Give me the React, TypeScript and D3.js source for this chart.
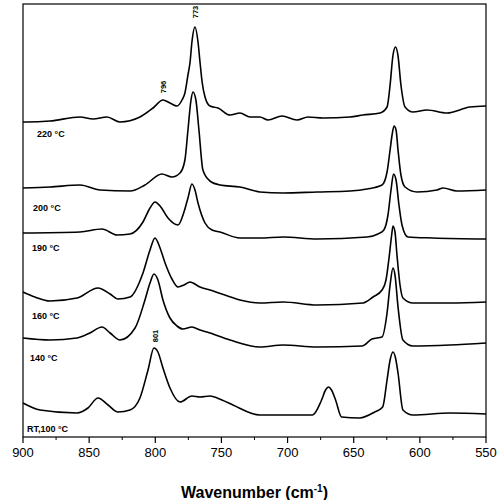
import React from 'react';
import * as d3 from 'd3';

type Pt = [number, number]; // [wavenumber (cm-1), intensity (a.u., stacked)]

// Raman spectra (stacked, arbitrary units)
const spec220: Pt[] = [
  [900, 315], [897, 315], [879.6, 316], [856.9, 320], [847.1, 318], [836.5, 320], [826.7, 315],
  [811.6, 320], [801.7, 329], [794.2, 337], [788.9, 334], [783.6, 331], [779.8, 337], [777.6, 344],
  [775.3, 362], [773.7, 375], [772.3, 395], [770, 410], [767.7, 395], [766.2, 375], [764.6, 355],
  [762.4, 340], [758.7, 331], [752.6, 329], [743.5, 322], [736, 324], [728.4, 320], [720.9, 320],
  [714.8, 317], [704.2, 321], [692.9, 317], [684.5, 320], [673.2, 319], [652.8, 320], [643, 322],
  [630.1, 324], [624.8, 330], [622.5, 352], [620.3, 382], [618.4, 390], [616.6, 382], [614.3, 352],
  [611.2, 330], [605.2, 325], [594.6, 327], [579.5, 324], [562.1, 330], [550, 331],
];

const spec200: Pt[] = [
  [900, 249], [879.6, 250], [856.9, 252], [841.8, 247], [819.1, 246], [807.8, 252], [795, 263],
  [787.4, 260], [781.3, 264], [777.6, 277], [775.3, 307], [773, 337], [771.5, 345], [769.3, 337],
  [767, 307], [764, 267], [758.7, 256], [751.1, 252], [736, 250], [720.9, 245], [703.4, 244],
  [677.7, 245], [652.8, 246], [640, 248], [628.6, 252], [624.8, 265], [622.5, 287], [621, 302],
  [619.5, 311], [618, 307], [616.5, 287], [614.3, 262], [611.2, 250], [602.1, 245], [587, 247],
  [582.5, 249], [571.9, 246], [550, 247],
];

const spec190: Pt[] = [
  [900, 204], [856.9, 205], [840.3, 208], [828.9, 202], [819.1, 203], [809.3, 215], [804, 229],
  [800.2, 235], [796.4, 231], [790.4, 219], [782.8, 212], [778.3, 225], [775.3, 239], [772.3, 253],
  [770, 247], [767.7, 234], [762.4, 214], [757.1, 207], [751.1, 205], [736, 199], [720.9, 199],
  [703.4, 200], [677.7, 198], [640, 200], [631.7, 203], [627.2, 207], [624.1, 222], [621.8, 247],
  [619.9, 263], [618, 257], [615.8, 232], [613.5, 212], [609, 200], [590.1, 199], [550, 198],
];

const spec160: Pt[] = [
  [900, 145], [891, 140], [879.6, 136], [859.2, 139], [843.3, 149], [834.2, 143], [828.2, 138],
  [819.1, 140], [809.3, 164], [804, 187], [800.2, 199], [796.4, 189], [792.6, 174], [787.4, 158],
  [782.8, 150], [778.3, 152], [773.8, 155], [766.2, 150], [758.7, 147], [747.4, 142], [736, 137],
  [720.9, 134], [703.4, 135], [677.7, 132], [643, 134], [635.4, 140], [628.6, 147], [625.6, 157],
  [623.3, 179], [621.4, 201], [620.3, 211], [618.8, 205], [617.3, 182], [615, 152], [612.8, 139],
  [605.2, 134], [577.2, 134], [550, 135],
];

const spec140: Pt[] = [
  [900, 99], [879.6, 97], [859.2, 99], [849.4, 104], [840.3, 110], [834.2, 104], [826.7, 97],
  [815.3, 109], [807.8, 137], [804, 154], [801, 163], [798, 157], [794.2, 137], [788.9, 119],
  [783.6, 111], [779.1, 108], [772.3, 110], [766.2, 107], [760.9, 105], [743.5, 97], [720.9, 90],
  [703.4, 92], [677.7, 90], [643.7, 91], [636.2, 98], [628.6, 100], [624.8, 124], [622.5, 152],
  [620.3, 169], [618.8, 162], [616.5, 130], [612.8, 97], [605.2, 91], [577.2, 92], [550, 94],
];

const specRT: Pt[] = [
  [900, 34], [887.1, 27], [859.2, 24], [850.9, 29], [843.3, 39], [835.7, 32], [828.2, 25],
  [819.1, 27], [811.6, 39], [805.5, 67], [801, 89], [798, 85], [794.2, 69], [788.9, 49],
  [781.3, 35], [772.3, 41], [766.2, 40], [758.7, 41], [749.6, 37], [741.3, 32], [720.9, 22],
  [703.4, 22], [681.2, 22], [674.3, 37], [671.3, 47], [669, 50], [666.8, 47], [663.7, 37],
  [659.2, 20], [645.5, 19], [634.1, 25], [628.1, 30], [624.8, 57], [622.5, 77], [620.3, 85],
  [618.4, 79], [616.5, 64], [612.8, 27], [605.2, 22], [577.2, 24], [550, 23],
];

const seriesNames = ['220 °C', '200 °C', '190 °C', '160 °C', '140 °C', 'RT,100 °C'];
const seriesData = [spec220, spec200, spec190, spec160, spec140, specRT];

const xTicks = [900, 850, 800, 750, 700, 650, 600, 550];
const xMinorTicks = [875, 825, 775, 725, 675, 625, 575];

const peakLabels = ['773', '796', '801'];

export default function App() {
  const W = 503, H = 500;
  const margin = { top: 4, right: 17, bottom: 63, left: 23 };

  const xScale = d3.scaleLinear().domain([900, 550]).range([margin.left, W - margin.right]);
  const yScale = d3.scaleLinear().domain([0, 433]).range([H - margin.bottom, margin.top]);

  const line = d3.line<Pt>()
    .x(d => xScale(d[0]))
    .y(d => yScale(d[1]))
    .curve(d3.curveMonotoneX);

  // where each trace name sits (wavenumber, intensity)
  const nameAt: Pt[] = [[889.4, 300], [892.4, 226], [893.2, 186], [893.2, 118], [894.7, 76], [897, 5]];
  // rotated peak labels
  const peakAt: Pt[] = [[770, 425], [794.2, 350], [800.2, 101]];

  const font = 'Arial, "Liberation Sans", Helvetica, sans-serif';
  const y0 = yScale(0);

  return (
    <svg width={W} height={H} style={{ position: 'absolute', left: 0, top: 0, background: '#fff' }}
      fontFamily={font}>
      <rect x={xScale(900)} y={margin.top} width={xScale(550) - xScale(900)}
        height={y0 - margin.top} fill="none" stroke="#000" strokeWidth={1.2} />

      {seriesData.map((d, i) => (
        <path key={i} d={line(d) || ''} fill="none" stroke="#000" strokeWidth={1.6}
          strokeLinejoin="round" />
      ))}

      {seriesNames.map((n, i) => (
        <text key={n} x={xScale(nameAt[i][0])} y={yScale(nameAt[i][1])} fontSize={9}
          fontWeight="bold">{n}</text>
      ))}

      {peakLabels.map((p, i) => (
        <text key={p} transform={`translate(${xScale(peakAt[i][0]) + 3},${yScale(peakAt[i][1])}) rotate(-90)`}
          textAnchor="middle" fontSize={7.5} fontWeight="bold">{p}</text>
      ))}

      {xTicks.map(t => (
        <g key={t}>
          <line x1={xScale(t)} x2={xScale(t)} y1={y0} y2={y0 + 6} stroke="#000" strokeWidth={1.2} />
          <text x={xScale(t)} y={y0 + 20} textAnchor="middle" fontSize={13}>{t}</text>
        </g>
      ))}
      {xMinorTicks.map(t => (
        <line key={t} x1={xScale(t)} x2={xScale(t)} y1={y0} y2={y0 + 3} stroke="#000" strokeWidth={1} />
      ))}

      <text x={(xScale(900) + xScale(550)) / 2} y={498} textAnchor="middle" fontSize={16}
        fontWeight="bold">
        Wavenumber (cm<tspan dy={-6} fontSize={10}>-1</tspan><tspan dy={6}>)</tspan>
      </text>
    </svg>
  );
}
